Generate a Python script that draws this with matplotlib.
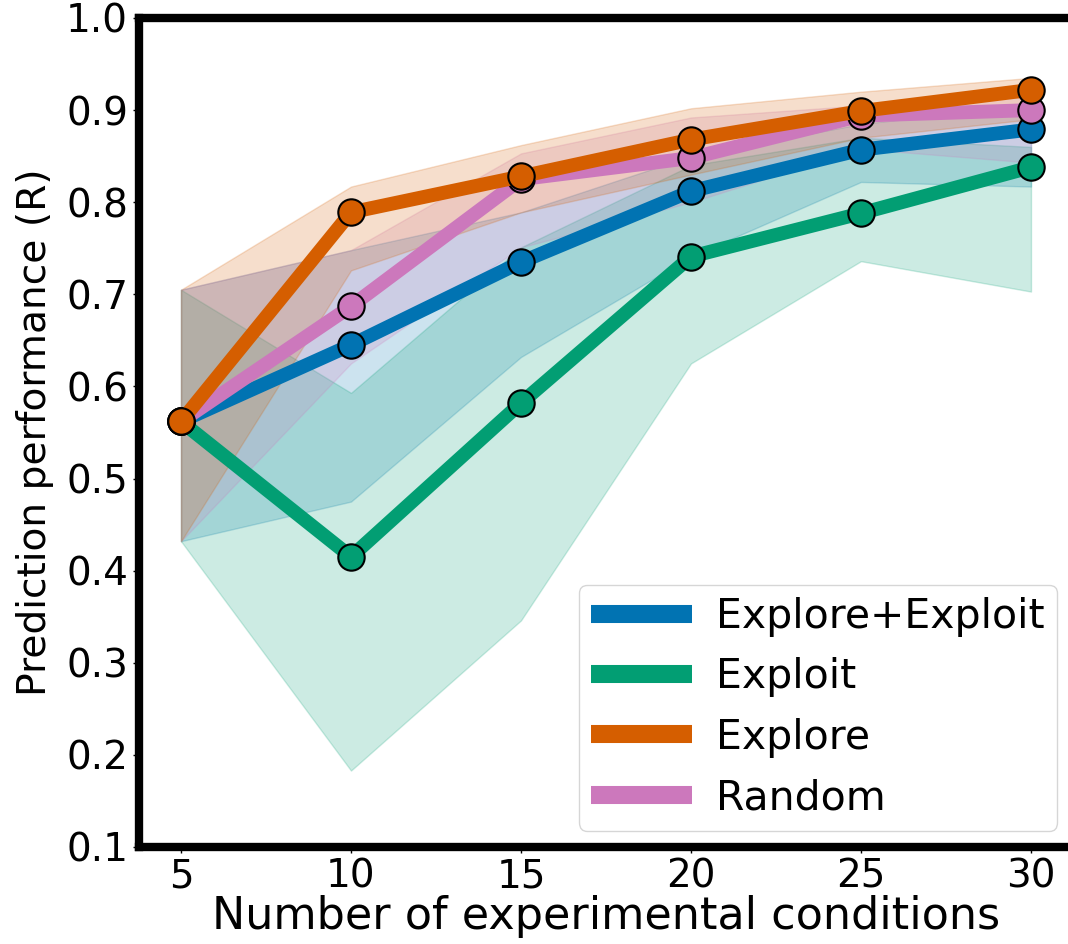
import matplotlib
matplotlib.use("Agg")
import matplotlib.pyplot as plt

plt.rcParams['font.family'] = ['DejaVu Sans']

x = [5, 10, 15, 20, 25, 30]
labels = ["Explore+Exploit", "Exploit", "Explore", "Random"]
colors = ["#0173b2", "#029e73", "#d55e00", "#cc78bc"]

mean_ee = [0.562, 0.645, 0.735, 0.812, 0.857, 0.879]
mean_exploit = [0.562, 0.415, 0.582, 0.741, 0.788, 0.838]
mean_explore = [0.562, 0.789, 0.828, 0.868, 0.899, 0.922]
mean_random = [0.562, 0.687, 0.825, 0.848, 0.894, 0.900]

lo_ee = [0.432, 0.475, 0.632, 0.741, 0.822, 0.817]
hi_ee = [0.705, 0.748, 0.789, 0.850, 0.885, 0.905]
lo_exploit = [0.432, 0.183, 0.346, 0.625, 0.736, 0.703]
hi_exploit = [0.705, 0.593, 0.751, 0.840, 0.870, 0.860]
lo_explore = [0.432, 0.726, 0.789, 0.830, 0.870, 0.890]
hi_explore = [0.705, 0.817, 0.862, 0.902, 0.920, 0.935]
lo_random = [0.432, 0.625, 0.751, 0.800, 0.858, 0.843]
hi_random = [0.705, 0.748, 0.853, 0.892, 0.905, 0.915]

series = {
    "Explore+Exploit": (mean_ee, lo_ee, hi_ee, colors[0]),
    "Exploit": (mean_exploit, lo_exploit, hi_exploit, colors[1]),
    "Explore": (mean_explore, lo_explore, hi_explore, colors[2]),
    "Random": (mean_random, lo_random, hi_random, colors[3]),
}
draw_order = ["Explore+Exploit", "Exploit", "Random", "Explore"]

W, H = 1068, 944
fig = plt.figure(figsize=(W / 100, H / 100), dpi=100)
ax_left = 138.5 / W
ax_width = 935 / W
ax_bottom = (H - 847) / H
ax_height = 829 / H
ax = fig.add_axes([ax_left, ax_bottom, ax_width, ax_height])

handles = {}
for name in draw_order:
    m, lo, hi, c = series[name]
    ax.fill_between(x, lo, hi, color=c, alpha=0.2, linewidth=1.0, zorder=1)
for i, name in enumerate(draw_order):
    m, lo, hi, c = series[name]
    ln, = ax.plot(x, m, color=c, linewidth=10, solid_capstyle='butt', label=name, zorder=3 + i)
    ax.plot(x, m, linestyle='none', marker='o', markersize=19, markerfacecolor=c,
            markeredgecolor='black', markeredgewidth=1.5, zorder=3 + i)
    handles[name] = ln

ax.set_xlim(3.75, 31.25)
ax.set_ylim(0.1, 1.0)
ax.set_xticks(x)
ax.set_yticks([0.1, 0.2, 0.3, 0.4, 0.5, 0.6, 0.7, 0.8, 0.9, 1.0])
ax.set_yticklabels(["0.1", "0.2", "0.3", "0.4", "0.5", "0.6", "0.7", "0.8", "0.9", "1.0"])
ax.tick_params(labelsize=28, length=4, width=1)
for s in ax.spines.values():
    s.set_linewidth(6)

ax.set_xlabel("Number of experimental conditions", fontsize=32, labelpad=0)
ax.set_ylabel("Prediction performance (R)", fontsize=28.2, labelpad=9)

leg = ax.legend([handles[n] for n in labels], labels, loc='lower right', fontsize=29.5,
                handlelength=2.45, handletextpad=0.6, borderpad=0.3,
                labelspacing=0.5, borderaxespad=0.4)
for lh in leg.get_lines():
    lh.set_linewidth(13)

fig.savefig("out.png", dpi=100)
